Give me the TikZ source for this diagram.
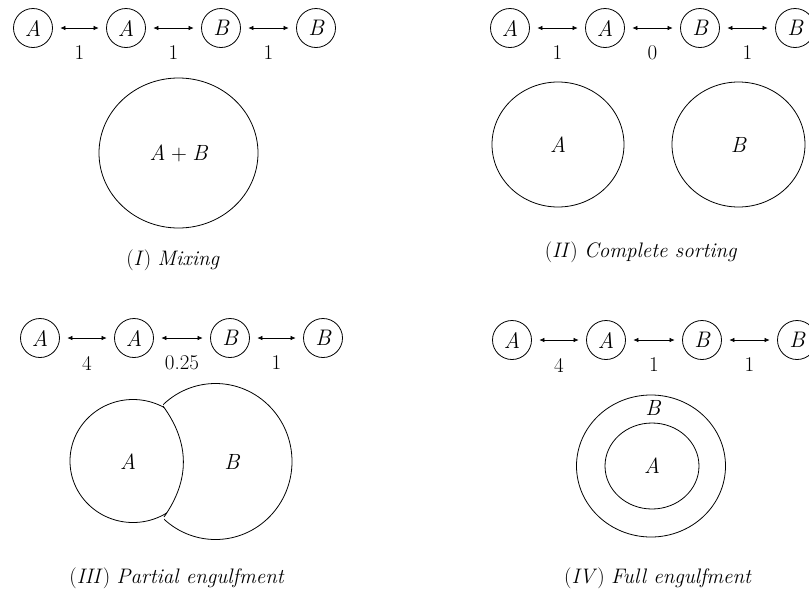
\documentclass[tikz,border=0pt]{standalone}
\usetikzlibrary{arrows.meta,shapes.geometric}
\begin{document}
\begin{tikzpicture}[x=1pt,y=-1pt,
  cell/.style={draw, circle, minimum size=39pt, inner sep=0pt, line width=0.8pt, font=\fontsize{22.5}{26}\selectfont\itshape},
  link/.style={{Latex[length=5pt,width=4.5pt]}-{Latex[length=5pt,width=4.5pt]}, line width=0.6pt, shorten <=7.5pt, shorten >=7.5pt},
  lbl/.style={midway, yshift=-25pt, font=\fontsize{21}{24}\selectfont},
  bigell/.style={draw, ellipse, inner sep=0pt, line width=0.8pt, font=\fontsize{22}{26}\selectfont\itshape},
  txt/.style={font=\fontsize{22}{26}\selectfont\itshape},
  captext/.style={font=\fontsize{21}{25}\selectfont}
  ]
\useasboundingbox (0,0) rectangle (809,590);
\clip (0,0) rectangle (809,590);
\fill[white] (0,0) rectangle (809,590);

% ---------- Panel I ----------
\node[cell] (p1a) at (33,28) {A};
\node[cell] (p1b) at (126,28) {A};
\node[cell] (p1c) at (221,28) {B};
\node[cell] (p1d) at (316,28) {B};
\draw[link] (p1a) -- node[lbl] (p1l1) {1} (p1b);
\draw[link] (p1b) -- node[lbl] (p1l2) {1} (p1c);
\draw[link] (p1c) -- node[lbl] (p1l3) {1} (p1d);
\node[bigell, minimum width=159pt, minimum height=150pt] (mix) at (178.5,153) {A\hspace{0.25em}{\upshape +}\hspace{0.25em}B};
\node[captext] (cap1) at (173,260) {(\textit{I})\ \textit{Mixing}};

% ---------- Panel II ----------
\node[cell] (p2a) at (510,28) {A};
\node[cell] (p2b) at (605,28) {A};
\node[cell] (p2c) at (700,28) {B};
\node[cell] (p2d) at (795,28) {B};
\draw[link] (p2a) -- node[lbl] (p2l1) {1} (p2b);
\draw[link] (p2b) -- node[lbl] (p2l2) {0} (p2c);
\draw[link] (p2c) -- node[lbl] (p2l3) {1} (p2d);
\node[bigell, minimum width=132pt, minimum height=125pt] (sortA) at (558,144.5) {A};
\node[bigell, minimum width=133pt, minimum height=125pt] (sortB) at (738.5,144.5) {B};
\node[captext] (cap2) at (641,252) {(\textit{II})\ \textit{Complete sorting}};

% ---------- Panel III ----------
\node[cell] (p3a) at (40,338) {A};
\node[cell] (p3b) at (134,338) {A};
\node[cell] (p3c) at (230,338) {B};
\node[cell] (p3d) at (323,338) {B};
\draw[link] (p3a) -- node[lbl] (p3l1) {4} (p3b);
\draw[link] (p3b) -- node[lbl] (p3l2) {0.25} (p3c);
\draw[link] (p3c) -- node[lbl] (p3l3) {1} (p3d);
\begin{scope}
  \clip (163,300) -- (0,300) -- (0,600) -- (164,600) -- (164,517) .. controls (190,480) and (190,443) .. (163,406) -- cycle;
  \draw[line width=0.8pt] (133,461) ellipse [x radius=63pt, y radius=61.5pt];
\end{scope}
\begin{scope}
  \clip (163,300) -- (809,300) -- (809,600) -- (164,600) -- (164,517) .. controls (190,480) and (190,443) .. (163,406) -- cycle;
  \draw[line width=0.8pt] (215.5,461.5) ellipse [x radius=76.5pt, y radius=78pt];
\end{scope}
\draw[line width=0.8pt] (163,406) .. controls (190,443) and (190,480) .. (164,517);
\node[txt] (engA) at (128,462) {A};
\node[txt] (engB) at (232,462) {B};
\node[captext] (cap3) at (177,578) {(\textit{III})\ \textit{Partial engulfment}};

% ---------- Panel IV ----------
\node[cell] (p4a) at (512,340) {A};
\node[cell] (p4b) at (606,340) {A};
\node[cell] (p4c) at (702,340) {B};
\node[cell] (p4d) at (797,340) {B};
\draw[link] (p4a) -- node[lbl] (p4l1) {4} (p4b);
\draw[link] (p4b) -- node[lbl] (p4l2) {1} (p4c);
\draw[link] (p4c) -- node[lbl] (p4l3) {1} (p4d);
\node[bigell, minimum width=149pt, minimum height=142pt] (outerB) at (651,466) {};
\node[bigell, minimum width=94pt, minimum height=86pt] (innerA) at (652,466) {A};
\node[txt] (fullB) at (653,408) {B};
\node[captext] (cap4) at (658,578) {(\textit{IV})\ \textit{Full engulfment}};
\end{tikzpicture}
\end{document}
